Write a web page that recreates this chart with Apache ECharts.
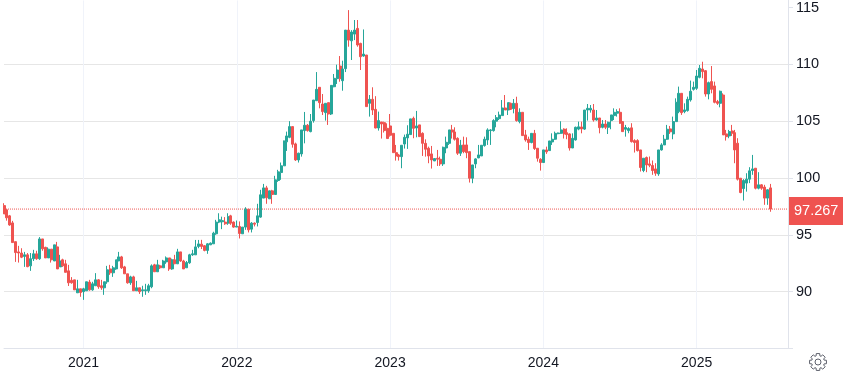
<!DOCTYPE html>
<html>
<head>
<meta charset="utf-8">
<style>
html, body { margin: 0; padding: 0; background: #fff; }
#chart { width: 843px; height: 371px; }
</style>
<script src="https://cdn.jsdelivr.net/npm/echarts@6/dist/echarts.min.js"></script>
</head>
<body>
<div id="chart"></div>
<script>
// weekly bars, 2020-07 to 2025-06
var firstWeek = '2020-07-02';
var blankWeeks = 6;
var lastPrice = 97.267;
var priceTicks = [90, 95, 100, 105, 110, 115];

var openValues = [
    97.57,97.2,96.67,96.05,94.4,93.5,93.4,93.1,93.24,92.27,
    92.9,93.33,92.9,94.64,93.9,92.97,93.74,92.7,93.94,92.18,
    92.8,92.45,91.83,91.0,91.04,89.9,90.25,90.0,90.08,90.84,
    90.16,90.52,91.04,90.52,90.34,90.87,92.0,91.66,92.0,92.7,
    93.06,92.18,91.57,90.78,91.3,90.08,90.34,90.08,90.08,90.08,
    90.43,92.36,91.75,92.27,92.1,92.62,92.97,92.0,92.8,92.45,
    93.5,92.7,92.1,92.54,93.24,93.24,93.98,94.18,94.04,93.63,
    94.12,94.21,95.09,96.12,96.15,96.12,96.03,96.67,96.12,95.68,
    95.74,95.09,95.68,97.26,95.5,96.03,96.09,96.56,98.23,99.13,
    98.17,98.87,98.55,99.78,100.48,101.07,103.18,103.58,104.52,103.0,
    101.59,102.12,104.17,104.64,104.08,105.05,106.8,107.98,106.51,105.75,
    106.63,105.63,108.03,108.74,109.85,108.56,109.62,113.01,112.07,112.66,
    113.16,111.84,110.73,110.82,106.57,106.92,106.04,104.4,104.93,104.87,
    104.37,104.58,103.93,102.23,102.03,101.88,102.99,103.53,103.82,105.25,
    104.4,104.67,103.93,103.05,102.62,102.12,101.5,101.74,101.65,101.24,
    102.64,103.05,104.23,104.05,103.49,102.18,102.91,102.91,102.32,99.98,
    101.24,101.77,101.94,102.85,103.35,104.17,104.17,105.0,105.22,105.49,
    106.16,105.98,106.57,106.1,106.57,104.96,105.78,103.79,103.41,103.12,
    103.93,102.62,101.65,101.36,102.47,102.41,103.17,103.41,103.9,103.93,
    104.3,103.99,103.88,102.64,103.35,104.3,104.49,104.3,105.98,105.98,
    105.98,105.1,105.28,104.46,104.75,104.46,105.05,105.49,105.7,105.78,
    104.96,104.29,104.17,104.41,103.29,103.29,102.47,100.66,101.8,101.24,
    101.1,100.8,100.36,102.47,102.91,103.41,104.32,103.88,104.96,105.84,
    107.45,105.84,105.93,106.87,107.8,107.89,108.86,109.59,109.44,107.39,
    108.48,108.1,106.72,106.57,107.3,103.88,103.7,104.14,103.99,103.06,
    99.98,99.07,99.55,99.9,100.66,100.86,99.1,99.4,99.2,98.23,99.13
];
var closeValues = [
    96.84,96.5,95.87,94.32,93.44,93.4,93.03,93.24,92.2,92.9,
    93.33,92.9,94.64,93.77,92.97,93.74,92.8,94.12,92.0,92.7,
    92.27,91.7,90.78,90.78,90.16,90.25,89.93,90.25,90.87,90.16,
    90.69,91.04,90.43,90.34,90.87,91.92,91.66,92.1,92.8,93.06,
    92.1,91.57,90.78,91.3,90.08,90.34,90.0,90.16,90.16,90.52,
    92.27,91.75,92.36,92.1,92.7,92.97,92.0,92.8,92.45,93.5,
    92.7,92.0,92.56,93.24,93.33,93.94,94.2,93.98,93.63,94.21,
    94.27,95.15,96.12,96.32,96.25,95.97,96.6,96.03,95.68,95.76,
    95.12,95.68,97.26,95.44,96.03,95.94,96.67,98.52,99.13,98.26,
    98.87,98.55,99.84,100.54,101.07,103.26,103.7,104.52,102.97,101.59,
    102.18,104.23,104.64,104.17,104.99,106.86,107.8,106.63,105.84,106.57,
    105.63,108.15,108.77,109.5,108.74,109.59,113.01,112.13,112.84,113.01,
    111.7,110.67,110.9,106.28,106.92,105.98,104.4,105.05,104.75,104.17,
    103.47,103.76,102.23,101.94,101.88,102.88,103.58,103.85,105.2,104.37,
    104.58,103.64,103.05,102.53,101.94,101.59,101.71,101.65,101.24,102.7,
    103.14,104.23,104.05,103.41,102.18,102.88,102.32,102.23,99.98,101.15,
    101.68,102.03,102.88,103.41,104.23,104.23,105.05,105.31,105.54,106.16,
    105.98,106.63,106.04,106.57,105.05,105.78,103.73,103.35,103.12,103.93,
    102.59,101.74,101.36,102.47,102.3,103.26,103.41,103.93,103.96,104.23,
    103.88,103.82,102.64,103.49,104.46,104.5,104.32,105.98,106.13,106.13,
    105.1,105.28,104.43,104.75,104.46,104.9,105.55,105.78,105.84,104.82,
    104.08,104.44,104.35,103.2,103.12,102.41,100.92,101.74,101.15,101.12,
    100.66,100.42,102.47,102.91,103.41,104.29,104.06,104.96,106.66,107.45,
    105.75,105.99,106.92,107.63,107.98,108.97,109.65,109.36,107.39,108.39,
    107.8,106.66,106.57,107.63,103.79,103.64,104.08,103.94,102.47,99.9,
    98.72,99.78,99.9,100.63,100.8,99.1,99.4,99.1,98.23,98.96,97.267
];
var lowValues = [
    96.84,96.25,95.8,94.32,92.62,92.56,92.95,92.18,92.15,91.83,
    92.7,92.8,92.8,93.6,92.97,92.97,92.56,92.7,92.0,92.18,
    92.18,91.7,90.5,90.7,90.16,89.9,89.55,89.28,90.08,90.08,
    90.08,90.52,90.25,90.16,89.72,90.69,91.48,91.3,91.92,92.7,
    92.0,91.57,90.7,90.6,90.08,90.08,89.8,89.55,89.72,89.9,
    90.3,91.75,91.75,92.0,92.1,92.45,91.83,91.92,92.45,92.45,
    92.62,92.0,92.1,92.45,93.15,93.24,93.82,93.75,93.55,93.33,
    94.1,94.2,95.0,96.03,95.5,95.88,95.88,95.88,95.62,95.68,
    94.68,95.09,95.44,95.21,95.21,95.74,95.74,96.5,98.23,97.73,
    98.17,97.73,98.55,99.66,99.84,101.07,102.38,103.5,102.67,101.5,
    101.36,101.88,103.05,104.08,104.02,104.87,106.8,106.13,105.54,105.05,
    104.67,105.54,107.98,108.27,108.47,107.68,109.32,111.55,110.38,112.13,
    111.55,109.5,110.67,106.28,105.4,105.54,104.37,104.17,103.47,104.0,
    103.47,103.64,102.23,101.53,101.53,100.86,102.59,102.56,103.82,103.5,
    103.58,103.64,101.94,101.88,101.3,100.83,101.5,101.06,101.06,101.06,
    102.18,102.91,103.47,103.29,102.03,101.94,102.18,101.74,99.6,99.54,
    100.86,101.74,101.94,102.76,102.91,102.91,104.08,104.46,105.1,105.49,
    105.98,105.54,105.98,105.69,104.96,104.81,103.73,103.2,102.47,103.05,
    102.47,101.44,100.65,101.36,102.12,102.41,102.91,103.35,103.85,103.87,
    103.47,103.41,102.41,102.64,103.29,104.2,103.93,104.23,105.05,105.75,
    104.96,105.05,103.93,104.37,104.3,103.87,104.29,105.1,105.4,104.76,
    104.08,103.64,103.94,103.12,102.24,102.33,100.57,100.51,100.51,100.95,
    100.28,100.19,100.19,102.41,102.91,103.35,103.88,103.41,104.96,105.7,
    105.55,105.7,105.84,106.72,107.69,107.75,108.77,108.77,107.16,106.92,
    107.45,106.57,106.43,106.22,103.79,103.29,103.5,103.7,101.3,99.78,
    98.66,98.02,98.8,99.55,100.28,99.0,99.0,98.96,97.64,97.64,97.03
];
var highValues = [
    97.78,97.25,96.75,96.23,94.4,94.03,93.82,93.5,93.4,93.4,
    93.68,93.6,94.8,94.64,93.95,93.9,93.74,94.12,94.38,93.24,
    92.9,92.8,92.36,91.28,91.04,91.04,90.25,90.34,90.87,91.04,
    90.87,91.63,91.1,91.04,90.87,92.27,92.36,92.27,92.8,93.5,
    93.15,92.27,91.57,91.4,91.4,90.95,90.34,90.52,90.69,90.69,
    92.4,92.45,92.8,92.36,92.8,93.1,92.97,92.9,93.24,93.77,
    93.5,92.8,92.7,93.33,93.68,94.55,94.55,94.56,94.1,94.27,
    94.33,95.27,96.32,96.9,96.6,96.56,96.9,96.76,96.18,96.26,
    96.18,95.68,97.43,97.26,96.12,96.09,97.73,98.96,99.48,99.31,
    98.9,98.96,100.19,100.72,101.36,103.3,104.08,105.0,104.52,103.11,
    102.23,104.23,105.81,104.75,105.63,106.86,109.32,107.98,107.39,106.57,
    106.63,108.15,109.15,109.97,110.73,110.32,113.01,114.77,113.01,113.9,
    113.9,111.9,113.07,110.82,107.3,107.98,107.2,105.84,104.93,104.96,
    104.81,105.63,103.93,102.91,102.12,102.88,103.82,104.64,105.2,105.4,
    105.9,104.67,104.02,103.4,102.76,102.82,101.71,102.47,101.88,102.76,
    103.64,104.23,104.67,104.46,103.58,103.35,103.64,103.58,102.32,101.15,
    101.74,102.91,102.88,103.64,104.37,104.3,105.17,105.54,105.84,106.86,
    107.3,106.63,106.63,106.95,107.15,106.13,105.78,104.23,103.64,103.93,
    104.23,102.62,101.74,102.47,102.76,103.26,103.93,104.08,104.0,104.99,
    104.37,104.37,103.93,103.93,104.52,104.96,104.96,105.98,106.51,106.42,
    106.51,105.98,105.28,105.1,105.1,104.96,105.55,106.13,106.05,106.13,
    104.96,104.67,104.47,104.82,103.41,103.41,102.47,101.74,101.89,101.89,
    101.54,101.3,102.47,103.06,103.79,104.67,104.58,105.4,107.01,108.04,
    107.45,106.57,107.16,108.57,108.48,109.5,109.94,110.23,109.5,108.48,
    109.85,108.48,106.87,107.69,107.45,104.23,104.23,104.67,104.23,103.5,
    99.98,99.9,100.42,100.95,102.03,100.86,100.51,99.46,99.4,99.02,99.48
];

function buildWeeks(start, count) {
    var weeks = [];
    var t = new Date(start + 'T00:00:00Z').getTime();
    for (var i = 0; i < count; i++) {
        weeks.push(new Date(t + i * 7 * 86400000).toISOString().slice(0, 10));
    }
    return weeks;
}

function buildBars() {
    var bars = [];
    for (var i = 0; i < openValues.length; i++) {
        bars.push([openValues[i], closeValues[i], lowValues[i], highValues[i]]);
    }
    return bars;
}

// the last price runs across the whole axis
function buildLastLine() {
    var line = [];
    for (var i = 0; i < weeks.length; i++) {
        line.push(lastPrice);
    }
    return line;
}

// gear outline for the settings button
function gearPoints(cx, cy) {
    var points = [];
    var teeth = 8;
    var outline = [[-0.3, 6.4], [-0.2, 8.6], [0.2, 8.6], [0.3, 6.4]];
    for (var i = 0; i < teeth; i++) {
        var a = i * 2 * Math.PI / teeth;
        for (var j = 0; j < outline.length; j++) {
            var ang = a + outline[j][0];
            points.push([cx + outline[j][1] * Math.cos(ang), cy + outline[j][1] * Math.sin(ang)]);
        }
    }
    return points;
}

var weeks = buildWeeks(firstWeek, openValues.length + blankWeeks);

// first week of each calendar year gets a label and a grid line
function isYearStart(index, value) {
    return index > 0 && weeks[index].slice(0, 4) !== weeks[index - 1].slice(0, 4);
}

var chart = echarts.init(document.getElementById('chart'));
var option = {
    animation: false,
    backgroundColor: '#fff',
    textStyle: { fontFamily: '"Liberation Sans", Arial, sans-serif' },
    grid: { left: 4, right: 55, top: 0, bottom: 22.5 },
    xAxis: {
        type: 'category',
        data: weeks,
        boundaryGap: false,
        axisLine: { show: true, onZero: false, lineStyle: { color: '#e0e3eb', width: 1 } },
        axisTick: { show: false },
        axisLabel: {
            interval: isYearStart,
            margin: 8,
            fontSize: 14,
            color: '#131722',
            formatter: function(value) {
                return value.slice(0, 4);
            }
        },
        splitLine: {
            show: true,
            interval: isYearStart,
            lineStyle: { color: '#f0f3fa', width: 1 }
        }
    },
    yAxis: {
        type: 'value',
        position: 'right',
        min: 85,
        max: 115.62,
        interval: 5,
        axisLine: { show: true, onZero: false, lineStyle: { color: '#e0e3eb', width: 1 } },
        axisTick: { show: true, length: 5, customValues: [85].concat(priceTicks), lineStyle: { color: '#e0e3eb' } },
        axisLabel: {
            customValues: priceTicks,
            margin: 8,
            fontSize: 14.5,
            color: '#131722',
            align: 'left'
        },
        splitLine: { show: true, showMaxLine: false, lineStyle: { color: '#e6e6e6', width: 1 } }
    },
    graphic: [
        { type: 'polygon', shape: { points: gearPoints(818, 362) }, style: { fill: 'none', stroke: '#5d606b', lineWidth: 1 } },
        { type: 'circle', shape: { cx: 818, cy: 362, r: 3 }, style: { fill: 'none', stroke: '#5d606b', lineWidth: 1 } }
    ],
    series: [{
        type: 'line',
        data: buildLastLine(),
        showSymbol: false,
        symbol: 'none',
        silent: true,
        clip: false,
        z: 1,
        lineStyle: { color: '#ef5350', type: 'dotted', width: 1 },
        endLabel: {
            show: true,
            distance: 1,
            offset: [0, 2],
            formatter: '97.267',
            color: '#fff',
            fontSize: 14.5,
            backgroundColor: '#ef5350',
            padding: [7, 5, 6, 5]
        }
    }, {
        type: 'candlestick',
        data: buildBars(),
        barWidth: 2.5,
        z: 2,
        itemStyle: {
            color: '#26a69a',
            color0: '#ef5350',
            borderColor: '#26a69a',
            borderColor0: '#ef5350',
            borderWidth: 1
        }
    }]
};
chart.setOption(option);
window.addEventListener('resize', function() {
    chart.resize();
});
</script>
</body>
</html>
